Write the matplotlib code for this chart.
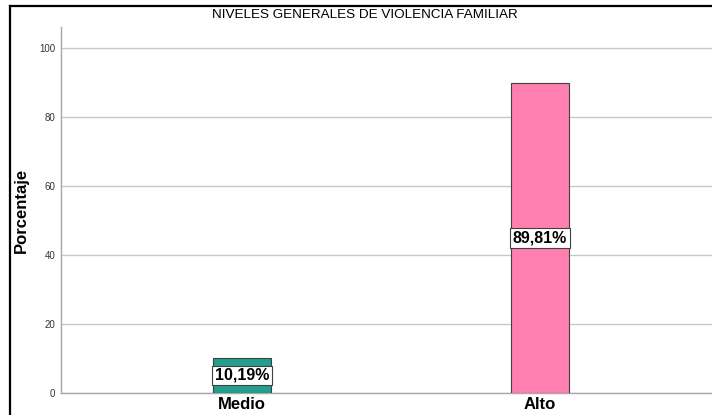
import matplotlib
matplotlib.use("Agg")
import matplotlib.pyplot as plt
from matplotlib.lines import Line2D

# data
categories = ["Medio", "Alto"]
percentages = [10.19, 89.81]
bar_labels = ["10,19%", "89,81%"]
bar_colors = ["#20A08C", "#FF80B0"]
yticks = [0, 20, 40, 60, 80, 100]

plt.rcParams["font.family"] = ["Liberation Sans", "DejaVu Sans"]

W, H = 712, 415
fig = plt.figure(figsize=(W / 100, H / 100), dpi=100)
fig.patch.set_facecolor("white")

# axes placed by pixel positions of the reference (right side is cropped)
left, right, top, bottom = 61, 712, 27, 393
ax = fig.add_axes([left / W, (H - bottom) / H, (right - left) / W, (bottom - top) / H])

x = list(range(len(categories)))
ax.bar(x, percentages, width=0.195, color=bar_colors, edgecolor="#404040", linewidth=0.8, zorder=3)

# value boxes centred in each bar
for xi, v, lab in zip(x, percentages, bar_labels):
    ax.text(xi, v / 2, lab, ha="center", va="center", fontsize=11.5, fontweight="bold",
            zorder=4, bbox=dict(boxstyle="square,pad=0.15", facecolor="white",
                                edgecolor="#404040", linewidth=0.8))

ax.set_xlim(-0.607, 1.577)
ax.set_ylim(0, 106)
ax.set_yticks(yticks)
ax.set_yticklabels([str(t) for t in yticks], fontsize=7, color="#333333")
ax.set_xticks(x)
ax.set_xticklabels(categories, fontsize=12, fontweight="bold")
ax.tick_params(axis="x", length=0, pad=3)
ax.tick_params(axis="y", length=0, pad=4)

ax.yaxis.grid(True, color="#c8c8c8", linewidth=1.0, zorder=0)
ax.set_axisbelow(True)
for s in ["top", "right"]:
    ax.spines[s].set_visible(False)
ax.spines["left"].set_color("#a8a8a8")
ax.spines["bottom"].set_color("#a8a8a8")
ax.spines["left"].set_linewidth(1.0)
ax.spines["bottom"].set_linewidth(1.0)

ax.set_ylabel("Porcentaje", fontsize=12, fontweight="bold")
ax.yaxis.set_label_coords((29 - left) / (right - left), 0.5)

fig.text(365 / W, (H - 15) / H, "NIVELES GENERALES DE VIOLENCIA FAMILIAR",
         ha="center", va="center", fontsize=9.7)

# black outer frame (left and top edges visible)
fx = 9.5 / W
fy = (H - 6.5) / H
fig.add_artist(Line2D([fx, fx], [0, fy], transform=fig.transFigure, color="black", linewidth=1.6))
fig.add_artist(Line2D([fx, 1], [fy, fy], transform=fig.transFigure, color="black", linewidth=1.6))

fig.savefig("out.png", dpi=100)
